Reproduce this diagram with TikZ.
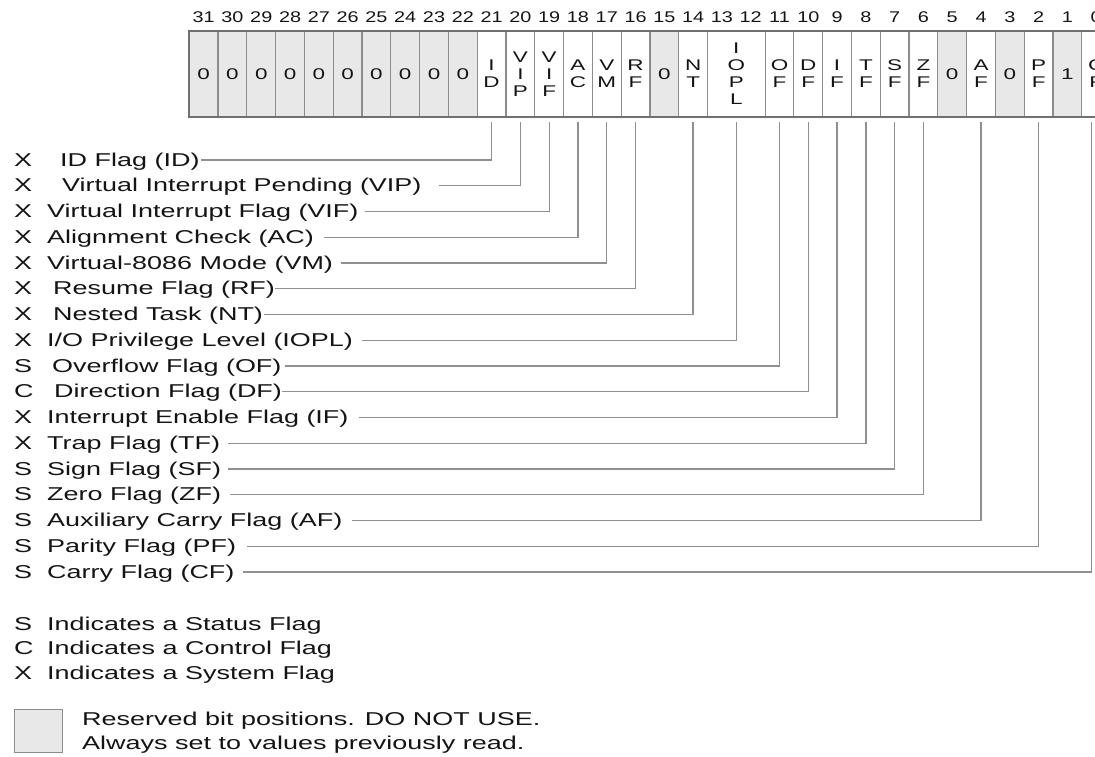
\documentclass[tikz,border=0pt]{standalone}
\usepackage{fontspec}
\setmainfont{Liberation Sans}[FakeStretch=1.45]
\newfontfamily\numfamily{Liberation Sans}[FakeStretch=1.28]
\usepackage{tikz}
\usetikzlibrary{positioning, calc}

\definecolor{rsvgray}{HTML}{E8E8E8}
\definecolor{cellline}{HTML}{8C8C8C}
\definecolor{frameline}{HTML}{707070}
\definecolor{wiregray}{HTML}{909090}
\definecolor{txt}{HTML}{141414}

\newcommand{\flagfont}{\fontsize{18.6}{22}\selectfont}
\newcommand{\cellfont}{\fontsize{15.5}{17}\selectfont}
\newcommand{\bitnumfont}{\numfamily\fontsize{15.5}{17}\selectfont}

\tikzset{
  cell/.style={draw=cellline, line width=1.2pt, minimum width=28.79pt, minimum height=86pt,
    inner sep=0pt, outer sep=0pt, align=center, font=\cellfont, text=txt},
  rsv/.style={fill=rsvgray},
  flg/.style={fill=white},
  bitnum/.style={font=\bitnumfont, inner sep=0pt, text=txt},
  flagtxt/.style={font=\flagfont, inner sep=0pt, anchor=base west, text=txt},
  wire/.style={draw=wiregray, line width=1.3pt, shorten >=5pt},
  frame/.style={draw=frameline, line width=1.8pt},
}

\begin{document}
\begin{tikzpicture}[x=1pt, y=-1pt]
    \useasboundingbox (0,0) rectangle (1095,757);
    \clip (0,0) rectangle (1095,757);

    % register cells
    \foreach \b/\t/\s in {31/0/rsv, 30/0/rsv, 29/0/rsv, 28/0/rsv, 27/0/rsv, 26/0/rsv,
        25/0/rsv, 24/0/rsv, 23/0/rsv, 22/0/rsv, 21/{I\\D}/flg, 20/{V\\I\\P}/flg,
        19/{V\\I\\F}/flg, 18/{A\\C}/flg, 17/{V\\M}/flg, 16/{R\\F}/flg, 15/0/rsv,
        14/{N\\T}/flg, 11/{O\\F}/flg, 10/{D\\F}/flg, 9/{I\\F}/flg, 8/{T\\F}/flg,
        7/{S\\F}/flg, 6/{Z\\F}/flg, 5/0/rsv, 4/{A\\F}/flg, 3/0/rsv, 2/{P\\F}/flg,
        1/1/rsv, 0/{C\\F}/flg}
        \node[cell, \s] (c\b) at ({189.3+(31.5-\b)*28.79}, 74) {\t};
    \node[cell, flg, minimum width=57.58pt] (c13) at ({189.3+19*28.79}, 74) {I\\O\\P\\L};
    \draw[frame] (c31.north west) rectangle (c0.south east);

    % bit numbers
    \foreach \b in {0,...,31}
        \node[bitnum] (n\b) at ({189.3+(31.5-\b)*28.79}, 17.5) {\b};

    % flag names and their lines
    \foreach \b/\t/\n/\x/\g [count=\i from 0] in {
        21/X/ID Flag (ID)/60/1,
        20/X/Virtual Interrupt Pending (VIP)/62/17,
        19/X/Virtual Interrupt Flag (VIF)/47/6,
        18/X/Alignment Check (AC)/47/10,
        17/X/Virtual-8086 Mode (VM)/47/8,
        16/X/Resume Flag (RF)/53/0,
        14/X/Nested Task (NT)/53/1,
        13/X/{I/O Privilege Level (IOPL)}/47/9,
        11/S/Overflow Flag (OF)/52/3,
        10/C/Direction Flag (DF)/54/0,
        9/X/Interrupt Enable Flag (IF)/47/10,
        8/X/Trap Flag (TF)/47/8,
        7/S/Sign Flag (SF)/47/7,
        6/S/Zero Flag (ZF)/47/9,
        4/S/Auxiliary Carry Flag (AF)/47/9,
        2/S/Parity Flag (PF)/47/11,
        0/S/Carry Flag (CF)/47/8} {
        \node[flagtxt] (k\b) at (14, {166+25.75*\i}) {\t};
        \node[flagtxt] (l\b) at (\x, {166+25.75*\i}) {\n};
        \path (l\b.base east) ++(\g,-6) coordinate (s\b);
    }
    \foreach \b in {21,20,19,18,17,16,14,13,11,10,9,8,7,6,4,2}
        \draw[wire] (s\b) -| (c\b.south);
    \draw[wire] (s0) -| ([xshift=-4.5pt]c0.south);

    % key
    \node[flagtxt] (kS) at (14, 630) {S};
    \node[flagtxt] (lS) at (47, 630) {Indicates a Status Flag};
    \node[flagtxt] (kC) at (14, 654) {C};
    \node[flagtxt] (lC) at (47, 654) {Indicates a Control Flag};
    \node[flagtxt] (kX) at (14, 679) {X};
    \node[flagtxt] (lX) at (47, 679) {Indicates a System Flag};

    \node[draw=cellline, fill=rsvgray, line width=1.2pt, minimum width=48pt, minimum height=43pt,
        inner sep=0pt, anchor=north west] (key) at (14, 709) {};
    \node[flagtxt] (keyA) at (82, 725) {Reserved bit positions. DO NOT USE.};
    \node[flagtxt] (keyB) at (82, 749) {Always set to values previously read.};
\end{tikzpicture}
\end{document}
